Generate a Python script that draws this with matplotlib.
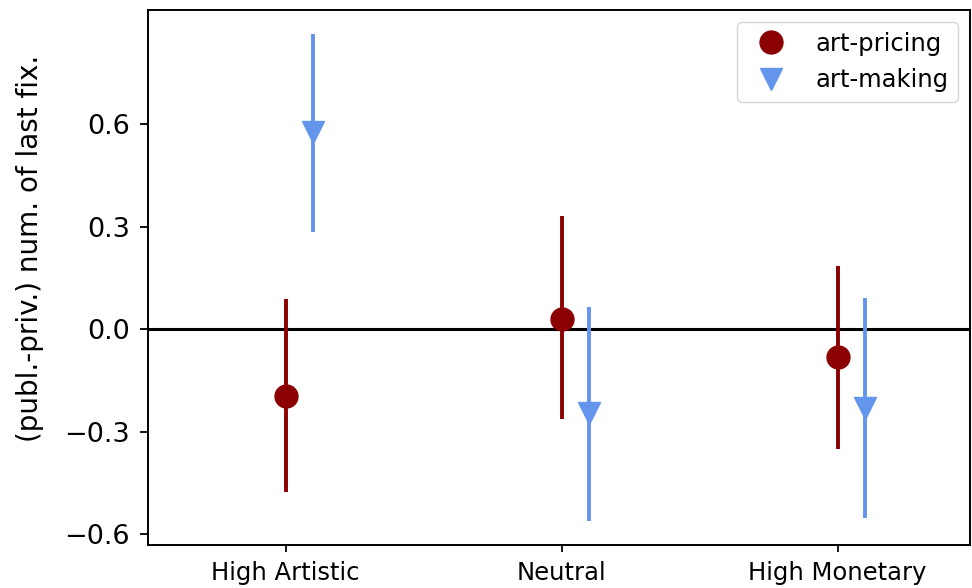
import numpy as np
import matplotlib
matplotlib.use("Agg")
import matplotlib.pyplot as plt

categories = ["High Artistic", "Neutral", "High Monetary"]
pricing_mean = [-0.196, 0.029, -0.082]
pricing_low = [-0.477, -0.263, -0.351]
pricing_high = [0.088, 0.331, 0.184]
making_mean = [0.577, -0.246, -0.231]
making_low = [0.284, -0.562, -0.553]
making_high = [0.863, 0.064, 0.091]

x = np.arange(len(categories))
offset = 0.1

fig = plt.figure(figsize=(9.72, 5.88), dpi=100)
ax = fig.add_axes([0.152, 0.073, 0.846, 0.910])

ax.axhline(0, color="black", lw=2.2, zorder=1)

ax.vlines(x, pricing_low, pricing_high, color="darkred", lw=2.8, zorder=2)
ax.plot(x, pricing_mean, "o", color="darkred", ms=16.5, label="art-pricing", zorder=3)
ax.vlines(x + offset, making_low, making_high, color="cornflowerblue", lw=2.8, zorder=2)
ax.plot(x + offset, making_mean, "v", color="cornflowerblue", ms=16.5, label="art-making", zorder=3)

ax.set_xlim(-0.5, 2.48)
ax.set_ylim(-0.632, 0.934)
ax.set_xticks(x)
ax.set_xticklabels(categories, fontsize=17.5)
ax.set_yticks([-0.6, -0.3, 0.0, 0.3, 0.6])
ax.tick_params(axis="y", labelsize=19.5, length=5.5, width=1.3, pad=7.5)
ax.tick_params(axis="x", length=5, width=1.3, pad=6.5)
for s in ax.spines.values():
    s.set_linewidth(1.4)
ax.set_ylabel("(publ.-priv.) num. of last fix.", fontsize=20)
ax.yaxis.set_label_coords(-0.126, 0.555)
ax.legend(loc="upper right", fontsize=17.5, handletextpad=0.8)

fig.savefig("out.png", dpi=100)
